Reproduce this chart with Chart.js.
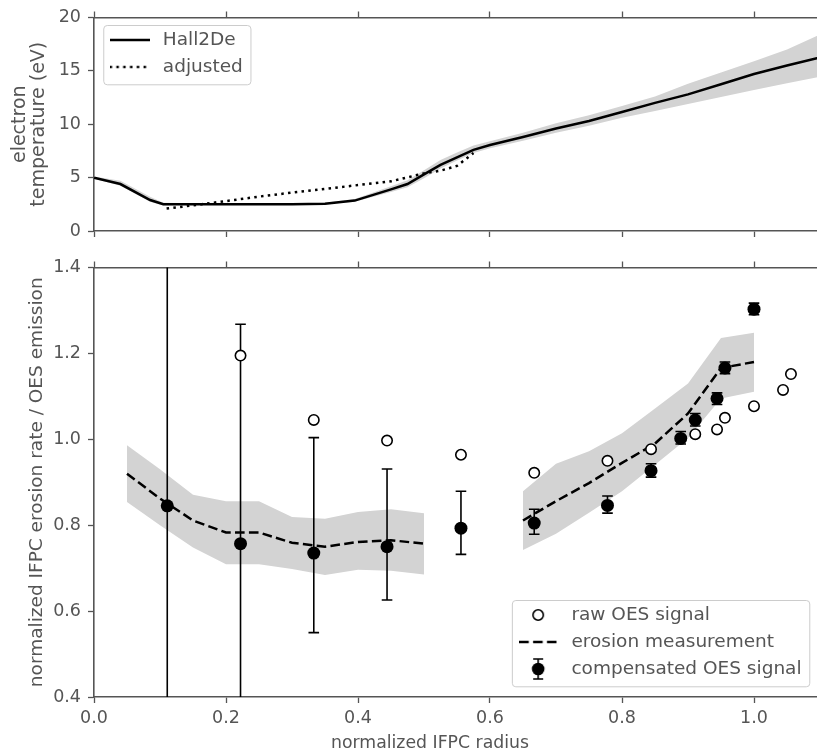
<!DOCTYPE html>
<html>
<head>
<meta charset="utf-8">
<script src="https://cdn.jsdelivr.net/npm/chart.js@4.4.1/dist/chart.umd.min.js"></script>
<style>
html,body{margin:0;padding:0;background:#fff;overflow:hidden;}
#wrap{position:relative;width:817px;height:756px;overflow:hidden;background:#fff;}
#c1{position:absolute;left:0;top:0;}
#c2{position:absolute;left:0;top:250px;}
</style>
</head>
<body>
<div id="wrap">
  <canvas id="c1" width="820" height="250"></canvas>
  <canvas id="c2" width="820" height="506"></canvas>
</div>
<script>
// ---------------- data ----------------
const xTicks = [0.0, 0.2, 0.4, 0.6, 0.8, 1.0];
const tempTicks = [0, 5, 10, 15, 20];
const ratioTicks = [0.4, 0.6, 0.8, 1.0, 1.2, 1.4];

// top panel: electron temperature
const hallX  = [0.0, 0.04, 0.085, 0.105, 0.15, 0.2, 0.25, 0.3, 0.35, 0.395, 0.45, 0.475, 0.5, 0.525, 0.55, 0.575, 0.6, 0.65, 0.7, 0.75, 0.8, 0.85, 0.9, 0.95, 1.0, 1.05, 1.1];
const hallT  = [5.0, 4.4, 2.9, 2.5, 2.5, 2.5, 2.5, 2.5, 2.55, 2.85, 3.9, 4.4, 5.3, 6.2, 6.9, 7.6, 8.05, 8.8, 9.6, 10.3, 11.15, 12.0, 12.8, 13.75, 14.7, 15.5, 16.25];
const hallHi = [5.1, 4.7, 3.2, 2.65, 2.6, 2.55, 2.55, 2.55, 2.65, 3.0, 4.2, 4.75, 5.7, 6.65, 7.35, 8.0, 8.4, 9.2, 10.1, 10.85, 11.7, 12.6, 13.8, 14.85, 15.9, 17.0, 18.4];
const hallLo = [4.9, 4.25, 2.75, 2.4, 2.45, 2.45, 2.45, 2.45, 2.5, 2.75, 3.65, 4.1, 4.95, 5.85, 6.6, 7.3, 7.75, 8.45, 9.2, 9.85, 10.6, 11.25, 11.9, 12.55, 13.2, 13.85, 14.45];
const adjX   = [0.11, 0.15, 0.2, 0.25, 0.3, 0.35, 0.4, 0.45, 0.5, 0.525, 0.55, 0.575];
const adjT   = [2.1, 2.4, 2.8, 3.22, 3.6, 3.95, 4.3, 4.65, 5.4, 5.65, 6.1, 7.3];

// bottom panel
const rawX  = [0.222, 0.333, 0.444, 0.556, 0.667, 0.778, 0.844, 0.911, 0.944, 0.956, 1.0, 1.044, 1.056];
const rawY  = [1.195, 1.045, 0.997, 0.964, 0.922, 0.950, 0.977, 1.012, 1.023, 1.050, 1.077, 1.115, 1.152];
const compX  = [0.111, 0.222, 0.333, 0.444, 0.556, 0.667, 0.778, 0.844, 0.889, 0.911, 0.944, 0.956, 1.0];
const compY  = [0.845, 0.757, 0.735, 0.750, 0.793, 0.805, 0.846, 0.927, 1.002, 1.045, 1.095, 1.166, 1.303];
const compHi = [1.75, 1.268, 1.004, 0.931, 0.879, 0.837, 0.868, 0.943, 1.018, 1.060, 1.108, 1.180, 1.317];
const compLo = [-0.06, 0.246, 0.550, 0.626, 0.732, 0.779, 0.828, 0.912, 0.989, 1.031, 1.081, 1.153, 1.290];
const ero1X  = [0.05, 0.10, 0.15, 0.20, 0.25, 0.30, 0.35, 0.40, 0.45, 0.50];
const ero1Y  = [0.920, 0.862, 0.811, 0.783, 0.783, 0.759, 0.750, 0.761, 0.765, 0.757];
const ero1Hi = [0.986, 0.930, 0.871, 0.856, 0.856, 0.819, 0.815, 0.831, 0.837, 0.828];
const ero1Lo = [0.854, 0.800, 0.748, 0.709, 0.709, 0.698, 0.684, 0.696, 0.694, 0.685];
const ero2X  = [0.65, 0.70, 0.75, 0.80, 0.85, 0.90, 0.95, 1.00];
const ero2Y  = [0.811, 0.856, 0.898, 0.945, 0.990, 1.060, 1.166, 1.180];
const ero2Hi = [0.879, 0.943, 0.972, 1.014, 1.072, 1.130, 1.236, 1.248];
const ero2Lo = [0.742, 0.780, 0.829, 0.879, 0.941, 1.003, 1.095, 1.111];

// texts
const topLegendLabels = ['Hall2De', 'adjusted'];
const botLegendLabels = ['raw OES signal', 'erosion measurement', 'compensated OES signal'];
const topYTitle = ['electron', 'temperature (eV)'];
const botYTitle = 'normalized IFPC erosion rate / OES emission';
const xTitleText = 'normalized IFPC radius';

// ---------------- helpers ----------------
const pts = (xs, ys) => xs.map((x, i) => ({x: x, y: ys[i]}));
const TXT = '#555555';
const AX = '#555555';
const BAND = '#d3d3d3';
const FAM = "'DejaVu Sans', 'Bitstream Vera Sans', sans-serif";
Chart.defaults.font.family = FAM;
Chart.defaults.font.size = 17.5;
Chart.defaults.color = TXT;

function icon(w, h, draw) {
  const c = document.createElement('canvas');
  c.width = w; c.height = h;
  const g = c.getContext('2d');
  draw(g);
  return c;
}
const solidIcon = icon(40, 6, g => { g.strokeStyle = '#000'; g.lineWidth = 2.5; g.beginPath(); g.moveTo(0, 3); g.lineTo(40, 3); g.stroke(); });
const dotIcon = icon(40, 6, g => { g.strokeStyle = '#000'; g.lineWidth = 2.5; g.setLineDash([2.5, 4.3]); g.beginPath(); g.moveTo(0, 3); g.lineTo(40, 3); g.stroke(); });
const openIcon = icon(16, 16, g => { g.fillStyle = '#fff'; g.strokeStyle = '#000'; g.lineWidth = 1.6; g.beginPath(); g.arc(8, 8, 5.2, 0, Math.PI * 2); g.fill(); g.stroke(); });
const dashIcon = icon(38, 6, g => { g.strokeStyle = '#000'; g.lineWidth = 2.5; g.setLineDash([9.6, 4.3]); g.beginPath(); g.moveTo(0, 3); g.lineTo(38, 3); g.stroke(); });
const errIcon = icon(16, 24, g => {
  g.strokeStyle = '#000'; g.lineWidth = 1.6;
  g.beginPath(); g.moveTo(8, 2); g.lineTo(8, 22); g.moveTo(3, 2); g.lineTo(13, 2); g.moveTo(3, 22); g.lineTo(13, 22); g.stroke();
  g.fillStyle = '#000'; g.beginPath(); g.arc(8, 12, 6.3, 0, Math.PI * 2); g.fill();
});

function makeLabels(texts, icons) {
  return () => texts.map((t, i) => ({
    text: t, pointStyle: icons[i], fillStyle: 'rgba(0,0,0,0)', strokeStyle: 'rgba(0,0,0,0)',
    lineWidth: 0, hidden: false, datasetIndex: i, fontColor: TXT
  }));
}

const LEG_FS = 18.5, LEG_PAD = 8.5, LEG_BOX = 48;

// positions the library legend inside the plot and draws the matplotlib-like frame
const mplLegend = {
  id: 'mplLegend',
  afterLayout(chart, args, opts) {
    const lg = chart.legend;
    if (!lg) return;
    const h = lg.height;
    lg.left = opts.left; lg.top = opts.top;
    lg.right = lg.left + lg.width; lg.bottom = lg.top + h;
    if (opts.titleCenter !== undefined) {
      const s = chart.scales.x;
      if (!s.__wrapped) {
        const orig = s.drawTitle;
        s.drawTitle = function () {
          const L = this.left, R = this.right, c = opts.titleCenter;
          const half = Math.min(c - L, R - c);
          this.left = c - half; this.right = c + half;
          orig.call(this);
          this.left = L; this.right = R;
        };
        s.__wrapped = true;
      }
    }
  },
  beforeDraw(chart, args, opts) {
    const lg = chart.legend;
    if (!lg || !lg.legendItems) return;
    const ctx = chart.ctx;
    ctx.save();
    ctx.font = LEG_FS + 'px ' + FAM;
    let maxW = 0;
    lg.legendItems.forEach(it => { maxW = Math.max(maxW, ctx.measureText(it.text).width); });
    const x0 = lg.left + LEG_PAD;
    const c0 = lg.top + LEG_PAD + LEG_FS / 2;
    const cN = c0 + (lg.legendItems.length - 1) * (LEG_FS + LEG_PAD);
    const L = x0 - 2.3, T = c0 - 15, R = x0 + LEG_BOX + LEG_FS / 2 + maxW + 7.7, B = cN + 17.3;
    ctx.beginPath();
    ctx.roundRect(L + 0.5, T + 0.5, R - L, B - T, 3.5);
    ctx.fillStyle = 'rgba(255,255,255,0.85)';
    ctx.fill();
    ctx.strokeStyle = '#cccccc';
    ctx.lineWidth = 1;
    ctx.stroke();
    ctx.restore();
  }
};

function xAxis(pos, h, showLabels, extra) {
  return Object.assign({
    type: 'linear', position: pos, min: 0, max: 1.1,
    afterBuildTicks: s => { s.ticks = xTicks.map(v => ({value: v})); },
    afterFit: s => { s.height = h; },
    ticks: { display: showLabels, padding: 4.5, color: TXT, font: {size: 17.5}, callback: v => Number(v).toFixed(1), maxRotation: 0, autoSkip: false },
    grid: { display: true, drawOnChartArea: false, drawTicks: true, tickLength: 6, tickColor: AX, tickWidth: 1.3 },
    border: { display: true, color: AX, width: 1.6 }
  }, extra || {});
}

// ---------------- top chart ----------------
new Chart(document.getElementById('c1'), {
  type: 'line',
  data: {
    datasets: [
      { label: topLegendLabels[0], data: pts(hallX, hallT), borderColor: '#000', borderWidth: 2.5, pointRadius: 0, fill: false, tension: 0 },
      { label: topLegendLabels[1], data: pts(adjX, adjT), borderColor: '#000', borderWidth: 2.5, borderDash: [2.5, 4.3], pointRadius: 0, fill: false, tension: 0 },
      { label: 'hi', data: pts(hallX, hallHi), borderWidth: 0, pointRadius: 0, backgroundColor: BAND, fill: '+1', tension: 0 },
      { label: 'lo', data: pts(hallX, hallLo), borderWidth: 0, pointRadius: 0, fill: false, tension: 0 }
    ]
  },
  options: {
    responsive: false, animation: false, devicePixelRatio: 1, events: [],
    layout: { padding: 0, autoPadding: false },
    scales: {
      x: xAxis('bottom', 19, false),
      xTop: xAxis('top', 15, false),
      y: {
        type: 'linear', position: 'left', min: 0, max: 20,
        afterBuildTicks: s => { s.ticks = tempTicks.map(v => ({value: v})); },
        afterFit: s => { s.width = 94; },
        ticks: { padding: 7, color: TXT, font: {size: 17.5}, callback: v => String(v) },
        grid: { display: true, drawOnChartArea: false, drawTicks: true, tickLength: 6, tickColor: AX, tickWidth: 1.3 },
        border: { display: true, color: AX, width: 1.6 },
        title: { display: true, text: topYTitle, color: TXT, font: {size: 19, lineHeight: 1.0}, padding: {top: 11, bottom: 0} }
      }
    },
    plugins: {
      legend: {
        display: true, position: 'chartArea', fullSize: false, align: 'start',
        labels: { usePointStyle: true, pointStyleWidth: LEG_BOX, padding: LEG_PAD, color: TXT, font: {size: LEG_FS}, generateLabels: makeLabels(topLegendLabels, [solidIcon, dotIcon]) }
      },
      tooltip: { enabled: false },
      mplLegend: { left: 97.05, top: 22.25 }
    }
  },
  plugins: [mplLegend]
});

// ---------------- bottom chart ----------------
const errData = [];
compX.forEach((x, i) => {
  errData.push({x: x, y: compLo[i]});
  errData.push({x: x, y: compHi[i]});
  errData.push({x: x, y: null});
});
const eroLine = pts(ero1X, ero1Y).concat([{x: 0.575, y: null}], pts(ero2X, ero2Y));

new Chart(document.getElementById('c2'), {
  type: 'line',
  data: {
    datasets: [
      { label: botLegendLabels[0], data: pts(rawX, rawY), showLine: false, pointRadius: 5.2, pointBorderWidth: 1.6, pointBackgroundColor: '#fff', pointBorderColor: '#000' },
      { label: botLegendLabels[2], data: pts(compX, compY), showLine: false, pointRadius: 6.5, pointBorderWidth: 0, pointBackgroundColor: '#000', pointBorderColor: '#000' },
      { label: 'error bars', data: errData, borderColor: '#000', borderWidth: 1.6, spanGaps: false, pointStyle: 'line', pointRadius: 5.3, pointBorderWidth: 1.6, pointBorderColor: '#000', fill: false, tension: 0 },
      { label: botLegendLabels[1], data: eroLine, borderColor: '#000', borderWidth: 2.5, borderDash: [9.6, 4.3], spanGaps: false, pointRadius: 0, fill: false, tension: 0 },
      { label: 'hi1', data: pts(ero1X, ero1Hi), borderWidth: 0, pointRadius: 0, backgroundColor: BAND, fill: '+1', tension: 0 },
      { label: 'lo1', data: pts(ero1X, ero1Lo), borderWidth: 0, pointRadius: 0, fill: false, tension: 0 },
      { label: 'hi2', data: pts(ero2X, ero2Hi), borderWidth: 0, pointRadius: 0, backgroundColor: BAND, fill: '+1', tension: 0 },
      { label: 'lo2', data: pts(ero2X, ero2Lo), borderWidth: 0, pointRadius: 0, fill: false, tension: 0 }
    ]
  },
  options: {
    responsive: false, animation: false, devicePixelRatio: 1, events: [],
    layout: { padding: 0, autoPadding: false },
    scales: {
      x: xAxis('bottom', 59, true, {
        title: { display: true, text: xTitleText, color: TXT, font: {size: 17.3, lineHeight: 1.2}, padding: {top: 0, bottom: 2} }
      }),
      xTop: xAxis('top', 15, false),
      y: {
        type: 'linear', position: 'left', min: 0.4, max: 1.4,
        afterBuildTicks: s => { s.ticks = ratioTicks.map(v => ({value: v})); },
        afterFit: s => { s.width = 94; },
        ticks: { padding: 7, color: TXT, font: {size: 17.5}, callback: v => Number(v).toFixed(1) },
        grid: { display: true, drawOnChartArea: false, drawTicks: true, tickLength: 6, tickColor: AX, tickWidth: 1.3 },
        border: { display: true, color: AX, width: 1.6 },
        title: { display: true, text: botYTitle, color: TXT, font: {size: 18.5, lineHeight: 1.2}, padding: {top: 25.9, bottom: 0} }
      }
    },
    plugins: {
      legend: {
        display: true, position: 'chartArea', fullSize: false, align: 'start',
        labels: { usePointStyle: true, pointStyleWidth: LEG_BOX, padding: LEG_PAD, color: TXT, font: {size: LEG_FS}, generateLabels: makeLabels(botLegendLabels, [openIcon, dashIcon, errIcon]) }
      },
      tooltip: { enabled: false },
      mplLegend: { left: 505.65, top: 347.25, titleCenter: 430 }
    }
  },
  plugins: [mplLegend]
});
</script>
</body>
</html>
